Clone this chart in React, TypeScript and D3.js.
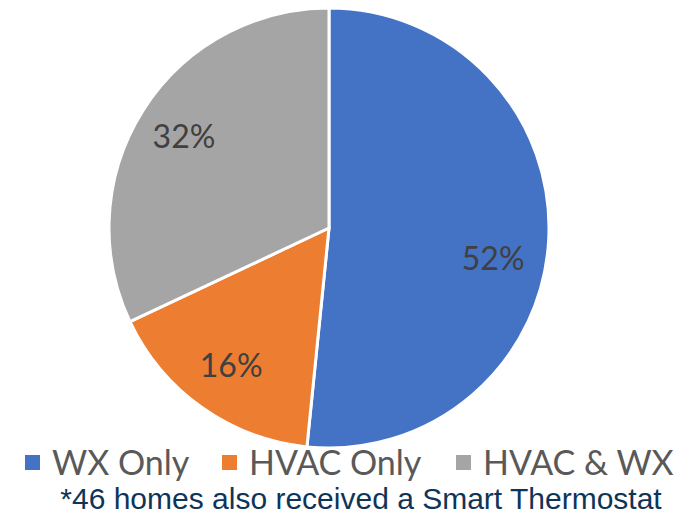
import React, { useEffect, useRef } from "react";
import * as d3 from "d3";

const categories = ["WX Only", "HVAC Only", "HVAC & WX"];
const shares = [51.6, 16.4, 32.0];
const colors = ["#4472C4", "#ED7D31", "#A5A5A5"];
const footnote = "*46 homes also received a Smart Thermostat";

export default function App() {
  const svgRef = useRef<SVGSVGElement | null>(null);

  useEffect(() => {
    if (!svgRef.current) return;
    const svg = d3.select(svgRef.current);
    svg.selectAll("*").remove();

    const cx = 329;
    const cy = 228;
    const radius = 220;

    const data = categories.map((name, i) => ({ name, value: shares[i], color: colors[i] }));

    const pie = d3
      .pie<any>()
      .value((d) => d.value)
      .sort(null);
    const arcs = pie(data);

    const arc = d3.arc<any>().innerRadius(0).outerRadius(radius);
    const labelArc = d3.arc<any>().innerRadius(radius * 0.77).outerRadius(radius * 0.77);

    const g = svg.append("g").attr("transform", `translate(${cx},${cy})`);

    g.selectAll("path.slice")
      .data(arcs)
      .enter()
      .append("path")
      .attr("class", "slice")
      .attr("d", arc)
      .attr("fill", (d) => d.data.color)
      .attr("stroke", "#fff")
      .attr("stroke-width", 3)
      .attr("stroke-linejoin", "round");

    // excel "best fit" nudges the big slice label a bit lower
    const nudge = [[-5, 22], [0, 0], [-2, 0]];

    g.selectAll("text.lbl")
      .data(arcs)
      .enter()
      .append("text")
      .attr("class", "lbl")
      .attr("x", (d, i) => labelArc.centroid(d)[0] + nudge[i][0])
      .attr("y", (d, i) => labelArc.centroid(d)[1] + nudge[i][1])
      .attr("dy", "0.35em")
      .attr("text-anchor", "middle")
      .attr("font-family", "Lato, 'Open Sans', sans-serif")
      .attr("font-size", 32)
      .attr("fill", "#404040")
      .text((d) => `${Math.round(d.data.value)}%`);

    // legend
    const legendX = [25, 222, 456];
    const leg = svg
      .selectAll("g.leg")
      .data(data)
      .enter()
      .append("g")
      .attr("class", "leg")
      .attr("transform", (_d, i) => `translate(${legendX[i]},463)`);
    leg
      .append("rect")
      .attr("x", 0)
      .attr("y", -8)
      .attr("width", 15)
      .attr("height", 15)
      .attr("fill", (d) => d.color);
    leg
      .append("text")
      .attr("x", 27)
      .attr("y", 0)
      .attr("dy", "0.35em")
      .attr("font-family", "Lato, 'Open Sans', sans-serif")
      .attr("font-size", 34)
      .attr("fill", "#595959")
      .text((d) => d.name);

    svg
      .append("text")
      .attr("x", 361)
      .attr("y", 509)
      .attr("text-anchor", "middle")
      .attr("font-family", "'Liberation Sans', Arial, sans-serif")
      .attr("font-size", 30)
      .attr("fill", "#0E3558")
      .text(footnote);
  }, []);

  return (
    <div style={{ margin: -8 }}>
      <svg ref={svgRef} width={698} height={517} style={{ display: "block", background: "#fff" }} />
    </div>
  );
}
